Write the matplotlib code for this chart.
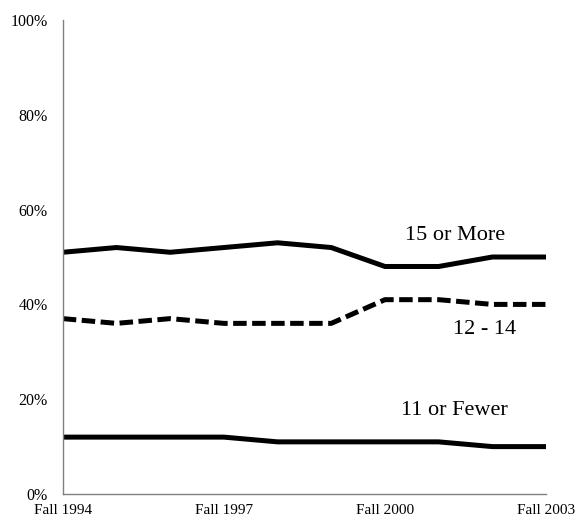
import matplotlib
matplotlib.use("Agg")
import matplotlib.pyplot as plt

years = ["Fall 1994", "Fall 1995", "Fall 1996", "Fall 1997", "Fall 1998",
         "Fall 1999", "Fall 2000", "Fall 2001", "Fall 2002", "Fall 2003"]
more15 = [51, 52, 51, 52, 53, 52, 48, 48, 50, 50]
mid12_14 = [37, 36, 37, 36, 36, 36, 41, 41, 40, 40]
fewer11 = [12, 12, 12, 12, 11, 11, 11, 11, 10, 10]
tick_years = ["Fall 1994", "Fall 1997", "Fall 2000", "Fall 2003"]
yticks = [0, 20, 40, 60, 80, 100]

plt.rcParams['font.family'] = ['Liberation Serif', 'DejaVu Serif']

fig = plt.figure(figsize=(5.76, 5.2), dpi=100)
ax = fig.add_axes([0.109, 0.05, 0.839, 0.9115])
x = list(range(len(years)))
ax.plot(x, more15, color='black', lw=3.6, solid_joinstyle='round')
ax.plot(x, mid12_14, color='black', lw=3.6, linestyle=(0, (2.7, 1.1)), dash_capstyle='butt')
ax.plot(x, fewer11, color='black', lw=3.6, solid_joinstyle='round')

ax.set_xlim(0, len(years) - 1)
ax.set_ylim(0, 100)
ax.set_yticks(yticks)
ax.set_yticklabels([f"{v}%" for v in yticks])
ax.set_xticks([years.index(t) for t in tick_years])
ax.set_xticklabels(tick_years)
ax.tick_params(axis='y', length=0, labelsize=11.5, colors='black', pad=11)
ax.tick_params(axis='x', length=0, labelsize=11, colors='black', pad=7.5)
for s in ['top', 'right']:
    ax.spines[s].set_visible(False)
for s in ['left', 'bottom']:
    ax.spines[s].set_color('#808080')
    ax.spines[s].set_linewidth(1.0)

ax.text(7.3, 54.6, "15 or More", fontsize=16, ha='center', va='center')
ax.text(7.85, 34.8, "12 - 14", fontsize=16, ha='center', va='center')
ax.text(7.3, 17.6, "11 or Fewer", fontsize=16, ha='center', va='center')

fig.savefig("out.png", dpi=100)
